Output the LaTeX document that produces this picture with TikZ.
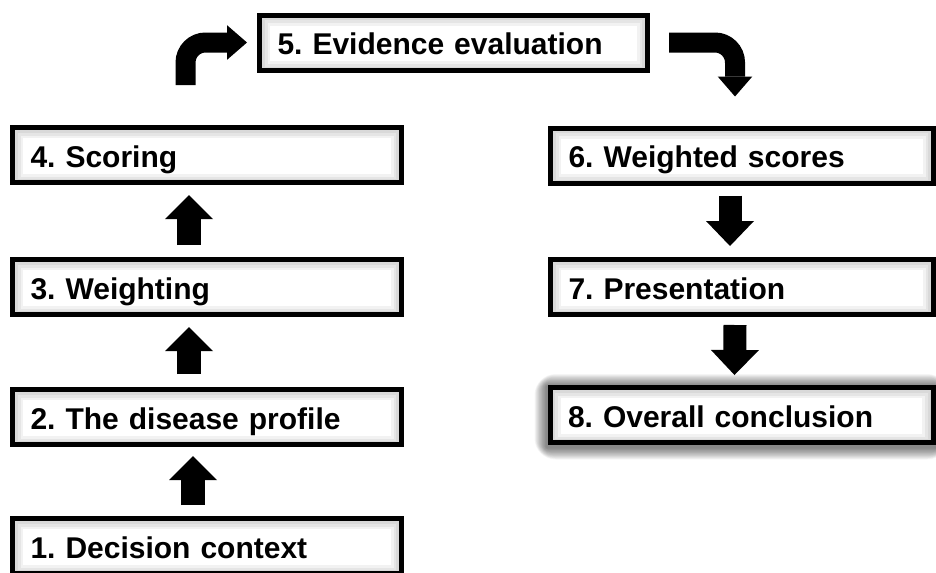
\documentclass[tikz,border=0pt]{standalone}
\usepackage{fontspec}
\setmainfont{Liberation Sans}
\usetikzlibrary{arrows.meta,backgrounds,calc}

\begin{document}
\frenchspacing
\begin{tikzpicture}[x=0.75pt,y=-0.75pt,
  % framed step box with a soft inner shade along its border
  stepbox/.style={draw=black, line width=3.75pt, fill=white, rectangle,
    minimum height=41.25pt, inner xsep=13.5pt, inner ysep=0pt,
    text height=18.5pt, text depth=0pt, align=left,
    font=\fontsize{22.5pt}{27pt}\selectfont\bfseries,
    path picture={
      \foreach \w in {4,8,12,16}{
        \draw[black, opacity=0.05, line width=\w pt]
          ([yshift=-1.5pt]path picture bounding box.south west) rectangle
          (path picture bounding box.north east);
      }}},
  leftbox/.style={stepbox, text width=264.75pt},
  rightbox/.style={stepbox, text width=260.25pt},
  topbox/.style={stepbox, text width=264pt},
  % straight block arrows
  blockup/.style={line width=18pt,
    -{Triangle[width=36pt,length=18pt,line width=0pt]}},
  blockdown/.style={line width=17.25pt,
    -{Triangle[width=36pt,length=18.75pt,line width=0pt]}},
  % bent block arrows
  bentarrow/.style={line width=15pt, rounded corners=15pt,
    -{Triangle[width=26pt,length=15pt,line width=0pt]}}
]
\useasboundingbox (0,0) rectangle (936,572);
\clip (0,0) rectangle (936,572);

% left column
\node[leftbox] (b4) at (207,155) {4. Scoring};
\node[leftbox] (b3) at (207,287) {3. Weighting};
\node[leftbox] (b2) at (207,417) {2. The disease profile};
\node[leftbox] (b1) at (207,546) {1. Decision context};

% top
\node[topbox] (b5) at (453.5,42.5) {5. Evidence evaluation};

% right column
\node[rightbox] (b6) at (742,155.5) {6. Weighted scores};
\node[rightbox] (b7) at (742,287) {7. Presentation};
\node[rightbox] (b8) at (741.5,415) {8. Overall conclusion};

% page background and the soft drop shadow under the last box
\begin{pgfonlayer}{background}
  \fill[white] (0,0) rectangle (936,572);
  \foreach \s in {1,...,16}{
    \fill[black, opacity=0.035, rounded corners=\s pt]
      ($(b8.south west)+(-\s*0.75-1,\s*0.75+2.5)$) rectangle
      ($(b8.north east)+(\s*0.75+1,-\s*0.75+1)$);
  }
\end{pgfonlayer}

% upward flow on the left
\draw[blockup] ([xshift=-10.5pt,yshift=8.25pt]b1.north)
  -- ([xshift=-10.5pt,yshift=-6.75pt]b2.south);
\draw[blockup] ([xshift=-13.5pt,yshift=9.75pt]b2.north)
  -- ([xshift=-13.5pt,yshift=-7.5pt]b3.south);
\draw[blockup] ([xshift=-13.5pt,yshift=9pt]b3.north)
  -- ([xshift=-13.5pt,yshift=-7.5pt]b4.south);

% over the top
\draw[bentarrow] ([xshift=-16.1pt,yshift=30pt]b4.north)
  |- ([xshift=-7.5pt]b5.west);
\draw[bentarrow] ([xshift=14.25pt]b5.east)
  -| ([xshift=-5.25pt,yshift=21.75pt]b6.north);

% downward flow on the right
\draw[blockdown] ([xshift=-9pt,yshift=-7.5pt]b6.south)
  -- ([xshift=-9pt,yshift=8.25pt]b7.north);
\draw[blockdown] ([xshift=-5.25pt,yshift=-6pt]b7.south)
  -- ([xshift=-5.25pt,yshift=7.5pt]b8.north);
\end{tikzpicture}
\end{document}
